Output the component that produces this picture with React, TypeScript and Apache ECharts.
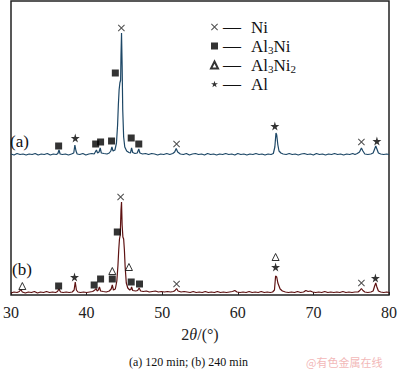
import React, { useEffect, useRef } from "react";
import * as echarts from "echarts";

// XRD trace (a) 120 min — [2θ, intensity (offset, arbitrary units)]
const traceA: [number, number][] = [
  [30.0, 141], [30.4, 140], [30.8, 141.5], [31.2, 140.5], [31.6, 141], [32.0, 140], [32.4, 141],
  [32.8, 140.5], [33.2, 141.5], [33.6, 140], [34.0, 141], [34.4, 140.5], [34.8, 141.5], [35.2, 140],
  [35.6, 141], [36.0, 140.5], [36.2, 141.5], [36.35, 145], [36.5, 141], [36.8, 140.5], [37.2, 141],
  [37.6, 140], [38.0, 141], [38.3, 142], [38.45, 150], [38.6, 144], [38.75, 141], [39.1, 140.5],
  [39.5, 141.5], [39.9, 140], [40.3, 141], [40.7, 141.5], [41.0, 141], [41.15, 143], [41.3, 145],
  [41.45, 142], [41.65, 143], [41.8, 147], [41.95, 142], [42.3, 141.5], [42.7, 141], [43.0, 142],
  [43.2, 144], [43.35, 148], [43.5, 144], [43.75, 145], [43.95, 152], [44.1, 170], [44.2, 190],
  [44.3, 205], [44.4, 212], [44.5, 215], [44.55, 240], [44.62, 262], [44.7, 230], [44.78, 185],
  [44.9, 158], [45.05, 148], [45.3, 144], [45.6, 142.5], [45.8, 142], [45.95, 147], [46.1, 142.5],
  [46.4, 141.5], [46.7, 142], [46.9, 146], [47.05, 142], [47.4, 141], [47.8, 141.5], [48.2, 140.5],
  [48.6, 141.5], [49.0, 141], [49.4, 140], [49.8, 141], [50.2, 140.5], [50.6, 141.5], [51.0, 140.5],
  [51.4, 141.5], [51.65, 143], [51.85, 146.5], [52.05, 143], [52.4, 141], [52.8, 140.5], [53.2, 141.5],
  [53.6, 140], [54.0, 141], [54.4, 141.5], [54.8, 140.5], [55.2, 141], [55.6, 140], [56.0, 141.5],
  [56.4, 140.5], [56.8, 141], [57.2, 140], [57.6, 141], [58.0, 140.5], [58.4, 141.5], [58.8, 140.5],
  [59.2, 141], [59.6, 140], [60.0, 141.5], [60.4, 140.5], [60.8, 141], [61.2, 140], [61.6, 141],
  [62.0, 140.5], [62.4, 141.5], [62.8, 140.5], [63.2, 141], [63.6, 140], [64.0, 141], [64.4, 140.5],
  [64.7, 141.5], [64.9, 148], [65.05, 162], [65.15, 160], [65.3, 150], [65.45, 144], [65.7, 142],
  [66.0, 141], [66.4, 140.5], [66.8, 141.5], [67.2, 140.5], [67.6, 141], [68.0, 140], [68.4, 141],
  [68.8, 141.5], [69.2, 140.5], [69.6, 141], [70.0, 140], [70.4, 141.5], [70.8, 140.5], [71.2, 141],
  [71.6, 140], [72.0, 141], [72.4, 140.5], [72.8, 141.5], [73.2, 140.5], [73.6, 141], [74.0, 140],
  [74.4, 141], [74.8, 140.5], [75.2, 141.5], [75.5, 140.5], [75.8, 141.5], [76.1, 143], [76.35, 147],
  [76.55, 144], [76.8, 141], [77.2, 140.5], [77.6, 141], [77.9, 142], [78.1, 146], [78.25, 149],
  [78.4, 146], [78.6, 142], [78.9, 141], [79.3, 140.5], [79.7, 141], [80.0, 140.5],
];

// XRD trace (b) 240 min
const traceB: [number, number][] = [
  [30.0, 2], [30.4, 3], [30.8, 2.5], [31.1, 3.5], [31.3, 5.5], [31.5, 3], [31.9, 2], [32.3, 3],
  [32.7, 2.5], [33.1, 3.5], [33.5, 2], [33.9, 3], [34.3, 2.5], [34.7, 3.5], [35.1, 2.5], [35.5, 3],
  [35.9, 2.5], [36.15, 3.5], [36.35, 6], [36.55, 3], [36.9, 2.5], [37.3, 3], [37.7, 2.5], [38.1, 3],
  [38.35, 5], [38.5, 13], [38.65, 5], [38.85, 3], [39.2, 2.5], [39.6, 3], [40.0, 2.5], [40.4, 3],
  [40.8, 3.5], [41.1, 5], [41.25, 6.5], [41.4, 4], [41.55, 5], [41.7, 8], [41.85, 4], [42.2, 3.5],
  [42.6, 3], [43.0, 4], [43.25, 6], [43.4, 10], [43.55, 5], [43.8, 6], [44.0, 14], [44.15, 30],
  [44.25, 45], [44.35, 56], [44.45, 60], [44.55, 85], [44.62, 93], [44.7, 70], [44.8, 58], [44.9, 56],
  [45.0, 45], [45.1, 28], [45.25, 12], [45.45, 7], [45.7, 5], [45.85, 5.5], [45.95, 8], [46.1, 4.5],
  [46.5, 4], [46.75, 4.5], [46.95, 7], [47.15, 4], [47.5, 3.5], [47.9, 4], [48.3, 3], [48.7, 3.5],
  [49.1, 4], [49.5, 3], [49.9, 3.5], [50.3, 3], [50.7, 3.5], [51.1, 3], [51.5, 3.5], [51.7, 4.5],
  [51.9, 6.5], [52.1, 4], [52.5, 3], [52.9, 3.5], [53.3, 3], [53.7, 2.5], [54.1, 3.5], [54.5, 2.5],
  [54.9, 3], [55.3, 2.5], [55.7, 3.5], [56.1, 2.5], [56.5, 3], [56.9, 2.5], [57.3, 3.5], [57.7, 2.5],
  [58.1, 3], [58.5, 2.5], [58.9, 3], [59.3, 3.5], [59.6, 4.5], [59.9, 3], [60.3, 2.5], [60.7, 3],
  [61.1, 2.5], [61.5, 3.5], [61.9, 2.5], [62.3, 3], [62.7, 2.5], [63.1, 3.5], [63.5, 2.5], [63.9, 3],
  [64.3, 2.5], [64.6, 3], [64.85, 5], [65.0, 19], [65.15, 18], [65.3, 12], [65.45, 9], [65.6, 6],
  [65.9, 4], [66.3, 3], [66.7, 2.5], [67.1, 3], [67.5, 2.5], [67.9, 3.5], [68.3, 2.5], [68.7, 3],
  [69.0, 4.5], [69.3, 3.5], [69.6, 4], [69.9, 3], [70.3, 2.5], [70.7, 3], [71.1, 2.5], [71.5, 3.5],
  [71.9, 2.5], [72.3, 3], [72.7, 2.5], [73.1, 3], [73.5, 2.5], [73.9, 3.5], [74.3, 2.5], [74.7, 3],
  [75.1, 2.5], [75.5, 3], [75.9, 3], [76.15, 4.5], [76.35, 6.5], [76.55, 4.5], [76.8, 3], [77.2, 2.5],
  [77.6, 3], [77.9, 4], [78.1, 9], [78.25, 12], [78.4, 8], [78.6, 4], [78.9, 3], [79.3, 2.5],
  [79.7, 3], [80.0, 2.5],
];

// Phase markers [2θ, height] for both traces
const niMarks: [number, number][] = [
  [44.6, 267], [51.9, 151], [76.35, 153],
  [44.5, 98], [51.9, 11], [76.35, 12],
];
const al3niMarks: [number, number][] = [
  [36.3, 149], [41.2, 151], [41.85, 153], [43.3, 154], [43.8, 222], [45.9, 157], [46.9, 151],
  [36.3, 9], [41.0, 10], [41.85, 16], [43.4, 16], [44.06, 63], [45.9, 13], [47.0, 11],
];
const al3ni2Marks: [number, number][] = [
  [31.5, 9], [43.4, 24], [45.6, 28], [65.0, 38],
];
const alMarks: [number, number][] = [
  [38.5, 157], [64.9, 169], [78.4, 154],
  [38.4, 18], [65.0, 28], [78.2, 17],
];

const xTicks = [30, 40, 50, 60, 70, 80];
const phaseNames = ["Ni", "Al3Ni", "Al3Ni2", "Al"];
const phaseLabels: Record<string, string> = {
  Ni: "{d|—}{t|Ni}",
  Al3Ni: "{d|—}{t|Al}{s|3}{t|Ni}",
  Al3Ni2: "{d|—}{t|Al}{s|3}{t|Ni}{s|2}",
  Al: "{d|—}{t|Al}",
};
const traceLabels = ["(a)", "(b)"];
const caption = "(a) 120 min; (b) 240 min";
const watermark = "@有色金属在线";

const SERIF = "Liberation Serif";
const CROSS = "path://M0,1 L1,0 L5,4 L9,0 L10,1 L6,5 L10,9 L9,10 L5,6 L1,10 L0,9 L4,5 Z";
const STAR = "path://M50,0 L61,35 L98,35 L68,57 L79,91 L50,70 L21,91 L32,57 L2,35 L39,35 Z";

export default function App() {
  const ref = useRef<HTMLDivElement>(null);
  useEffect(() => {
    if (!ref.current) return;
    const chart = echarts.init(ref.current, undefined, { renderer: "svg" });
    const markerSeries = (name: string, data: [number, number][], symbol: string, size: number, fill: string) => ({
      name,
      type: "scatter",
      data,
      symbol,
      symbolSize: size,
      itemStyle: { color: fill, borderColor: "#000", borderWidth: fill === "#fff" ? 1 : 0 },
      z: 5,
    });
    chart.setOption({
      animation: false,
      backgroundColor: "#fff",
      grid: { left: 6, right: 10, top: 1, bottom: 77, show: true, borderColor: "#222", borderWidth: 1.5, backgroundColor: "transparent" },
      xAxis: {
        type: "value",
        min: 30,
        max: 80,
        interval: 10,
        axisLine: { show: false },
        axisTick: { show: true, inside: true, length: 3, lineStyle: { color: "#222" } },
        splitLine: { show: false },
        axisLabel: {
          fontFamily: SERIF,
          fontSize: 16,
          color: "#222",
          margin: 9,
          formatter: (v: number) => (xTicks.includes(v) ? String(v) : ""),
        },
        name: "2{i|θ}/(°)",
        nameLocation: "middle",
        nameGap: 31,
        nameTextStyle: {
          fontFamily: SERIF,
          fontSize: 16,
          color: "#222",
          rich: { i: { fontFamily: SERIF, fontStyle: "italic", fontSize: 16, color: "#222" } },
        },
      },
      yAxis: {
        type: "value",
        min: 0,
        max: 294,
        show: false,
        splitLine: { show: false },
      },
      legend: {
        orient: "vertical",
        left: 205,
        top: 13,
        itemGap: 1,
        itemWidth: 7,
        itemHeight: 7,
        data: phaseNames,
        formatter: (n: string) => phaseLabels[n],
        textStyle: {
          fontFamily: SERIF,
          fontSize: 17,
          color: "#111",
          rich: {
            d: { fontFamily: SERIF, fontSize: 18, lineHeight: 18, color: "#111", padding: [0, 10, 0, 0] },
            t: { fontFamily: SERIF, fontSize: 17, lineHeight: 18, color: "#111" },
            s: { fontFamily: SERIF, fontSize: 11, lineHeight: 11, color: "#111", verticalAlign: "bottom" },
          },
        },
      },
      series: [
        {
          name: "a",
          type: "line",
          data: traceA,
          showSymbol: false,
          lineStyle: { color: "#1d4766", width: 1.2 },
          z: 3,
        },
        {
          name: "b",
          type: "line",
          data: traceB,
          showSymbol: false,
          lineStyle: { color: "#5e1212", width: 1.2 },
          z: 3,
        },
        markerSeries("Ni", niMarks, CROSS, 7, "#222"),
        markerSeries("Al3Ni", al3niMarks, "rect", 7, "#000"),
        markerSeries("Al3Ni2", al3ni2Marks, "triangle", 7, "#fff"),
        markerSeries("Al", alMarks, STAR, 9, "#000"),
      ],
      graphic: [
        { type: "text", left: 10, top: 133, style: { text: traceLabels[0], font: `17px "${SERIF}"`, fill: "#111" } },
        { type: "text", left: 12, top: 261, style: { text: traceLabels[1], font: `17px "${SERIF}"`, fill: "#111" } },
        { type: "text", left: 129, top: 356, style: { text: caption, font: `12px "${SERIF}"`, fill: "#111" } },
        { type: "text", left: 306, top: 356, style: { text: watermark, font: `11px "Noto Sans CJK SC"`, fill: "#f2b8b8" } },
      ],
    });
    return () => chart.dispose();
  }, []);
  return <div ref={ref} style={{ position: "fixed", left: 0, top: 0, width: 400, height: 372 }} />;
}
